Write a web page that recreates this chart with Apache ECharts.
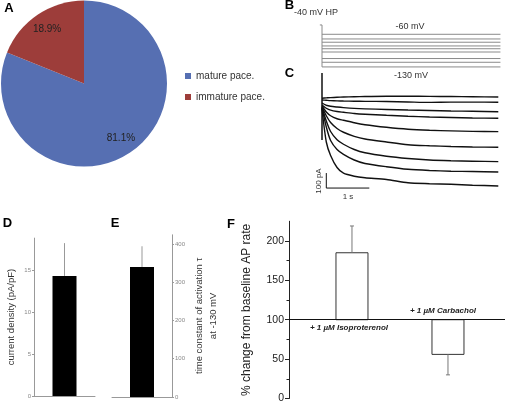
<!DOCTYPE html>
<html><head><meta charset="utf-8">
<script src="https://cdn.jsdelivr.net/npm/echarts@6/dist/echarts.min.js"></script>
<style>html,body{margin:0;padding:0;background:#fff}#c{width:506px;height:404px}</style>
</head><body><div id="c"></div>
<script>
// ---- Panel A: pie ----
const pieNames = ['mature pace.', 'immature pace.'];
const pieValues = [81.1, 18.9];
const pieColors = ['#566fb2', '#9d3d3a'];

// ---- Panel B: voltage protocol (mV) ----
const holdingMV = -40;
const stepMV = [-60, -70, -77, -85, -91, -98, -112, -120, -130];
const stepStart = 0;      // s
const stepEnd = 4.15;     // s

// ---- Panel C: current traces (pA) ----
const traceTimes = [0, 0.1, 0.2, 0.35, 0.5, 0.75, 1.0, 1.5, 2.0, 2.5, 3.0, 3.5, 4.1];
const trace1 = [-8, -6, -4, -2, 0, 2, 3, 5, 5, 4, 3, 2, 0];
const trace2 = [-20, -22, -24, -26, -27, -28, -29, -30, -33, -36, -34, -34, -35];
const trace3 = [-40, -55, -62, -67, -71, -76, -79, -83, -87, -90, -93, -95, -98];
const trace4 = [-53, -75, -88, -97, -102, -110, -115, -122, -128, -133, -137, -140, -142];
const trace5 = [-60, -100, -125, -145, -155, -172, -185, -202, -215, -222, -226, -229, -231];
const trace6 = [-67, -125, -170, -210, -235, -262, -280, -300, -318, -325, -330, -333, -335];
const trace7 = [-70, -160, -230, -285, -315, -350, -372, -395, -410, -420, -425, -428, -431];
const trace8 = [-73, -200, -290, -350, -382, -420, -443, -465, -482, -490, -495, -497, -500];
const trace9 = [-80, -300, -390, -470, -508, -528, -538, -550, -572, -578, -582, -588, -593];
const traces = [trace1, trace2, trace3, trace4, trace5, trace6, trace7, trace8, trace9];
const transientPA = [160, -287];
const scaleBarT = [0.1, 1.1];      // 1 s
const scaleBarPA = [-507, -607];   // 100 pA

// ---- Panel D ----
const dValue = [14.3];
const dErr = [3.9];
const dTicks = [0, 5, 10, 15];

// ---- Panel E ----
const eValue = [340];
const eErr = [54];
const eTicks = [0, 100, 200, 300, 400];

// ---- Panel F ----
const fLabels = ['+ 1 \u00b5M Isoproterenol', '+ 1 \u00b5M Carbachol'];
const fPositions = [1, 2];
const fValues = [185, 56];
const fErr = [34, 26];
const fBaseline = 100;
const fTicks = [0, 50, 100, 150, 200];
const fMinorTicks = [25, 75, 125, 175];

const FONT = '"Liberation Sans", Arial, sans-serif';
const chart = echarts.init(document.getElementById('c'), null, {renderer: 'canvas'});

function errRender(capHalf, color) {
  return function (params, api) {
    const x = api.value(0), lo = api.value(1), hi = api.value(2);
    const p1 = api.coord([x, lo]), p2 = api.coord([x, hi]);
    const ch = [{type: 'line', shape: {x1: p1[0], y1: p1[1], x2: p2[0], y2: p2[1]}, style: {stroke: color, lineWidth: 1}}];
    if (capHalf > 0) ch.push({type: 'line', shape: {x1: p2[0] - capHalf, y1: p2[1], x2: p2[0] + capHalf, y2: p2[1]}, style: {stroke: color, lineWidth: 1}});
    return {type: 'group', children: ch};
  };
}

const series = [];
// A
series.push({
  type: 'pie', center: [84, 83.5], radius: 83, startAngle: 90, clockwise: true, silent: true,
  label: {show: false}, labelLine: {show: false},
  data: pieNames.map((n, i) => ({name: n, value: pieValues[i], itemStyle: {color: pieColors[i]}}))
});
series.push({
  type: 'pie', center: [84, 83.5], radius: [43, 83], startAngle: 90, clockwise: true, silent: true,
  itemStyle: {color: 'rgba(0,0,0,0)'},
  label: {show: true, position: 'inside', formatter: p => p.value.toFixed(1) + '%', color: '#222', fontSize: 10, fontFamily: FONT},
  labelLine: {show: false},
  data: pieNames.map((n, i) => ({name: n, value: pieValues[i]}))
});
// B protocol
const protoLine = {type: 'line', xAxisIndex: 0, yAxisIndex: 0, showSymbol: false, silent: true,
  lineStyle: {color: '#8a8a8a', width: 1}};
series.push(Object.assign({}, protoLine, {data: [[stepStart - 0.05, holdingMV], [stepStart, holdingMV], [stepStart, Math.min(...stepMV)]]}));
stepMV.forEach(v => series.push(Object.assign({}, protoLine, {data: [[stepStart, v], [stepEnd, v]]})));
// C traces
traces.forEach(tr => series.push({
  type: 'line', xAxisIndex: 1, yAxisIndex: 1, showSymbol: false, silent: true, smooth: 0.25,
  lineStyle: {color: '#111', width: 1.4},
  data: traceTimes.map((t, i) => [t, tr[i]])
}));
series.push({type: 'line', xAxisIndex: 1, yAxisIndex: 1, showSymbol: false, silent: true,
  lineStyle: {color: '#111', width: 1.5}, data: [[0, transientPA[0]], [0, transientPA[1]]]});
series.push({type: 'line', xAxisIndex: 1, yAxisIndex: 1, showSymbol: false, silent: true,
  lineStyle: {color: '#111', width: 1},
  data: [[scaleBarT[0], scaleBarPA[0]], [scaleBarT[0], scaleBarPA[1]], [scaleBarT[1], scaleBarPA[1]]]});
// D
series.push({type: 'bar', xAxisIndex: 2, yAxisIndex: 2, barWidth: 24, silent: true, itemStyle: {color: '#000'}, data: dValue});
series.push({type: 'custom', xAxisIndex: 2, yAxisIndex: 2, silent: true, renderItem: errRender(0, '#999'),
  encode: {x: 0, y: [1, 2]}, data: dValue.map((v, i) => [0, v, v + dErr[i]])});
// E
series.push({type: 'bar', xAxisIndex: 3, yAxisIndex: 3, barWidth: 24, silent: true, itemStyle: {color: '#000'}, data: eValue});
series.push({type: 'custom', xAxisIndex: 3, yAxisIndex: 3, silent: true, renderItem: errRender(0, '#999'),
  encode: {x: 0, y: [1, 2]}, data: eValue.map((v, i) => [0, v, v + eErr[i]])});
// F
const fBarWidth = 1 / 3;
series.push({
  type: 'custom', xAxisIndex: 4, yAxisIndex: 4, silent: true,
  encode: {x: 0, y: 1},
  data: fPositions.map((x, i) => [x, fValues[i]]),
  renderItem: function (params, api) {
    const x = api.value(0), v = api.value(1);
    const p0 = api.coord([x, fBaseline]), p1 = api.coord([x, v]);
    const w = api.size([fBarWidth, 0])[0];
    const up = v > fBaseline;
    return {type: 'group', children: [
      {type: 'rect', shape: {x: p0[0] - w / 2, y: Math.min(p0[1], p1[1]), width: w, height: Math.abs(p1[1] - p0[1])},
        style: {fill: '#fff', stroke: '#333', lineWidth: 1}},
      {type: 'text', x: p0[0] + (up ? -3 : -5), y: p0[1] + (up ? 8 : -9),
        style: {text: fLabels[params.dataIndex], align: 'center', verticalAlign: 'middle',
          font: 'italic bold 8px "Liberation Sans", Arial, sans-serif', fill: '#222'}}
    ]};
  },
  markLine: {silent: true, symbol: 'none', label: {show: false}, lineStyle: {color: '#111', width: 1, type: 'solid'},
    data: [{yAxis: fBaseline}]}
});
series.push({type: 'custom', xAxisIndex: 4, yAxisIndex: 4, silent: true, renderItem: errRender(2, '#777'),
  encode: {x: 0, y: [1, 2]},
  data: fPositions.map((x, i) => [x, fValues[i], fValues[i] > fBaseline ? fValues[i] + fErr[i] : fValues[i] - fErr[i]])});

const hiddenX = {type: 'value', show: false, min: -0.5, max: 4.2};
const smallAxis = {
  axisLine: {show: true, lineStyle: {color: '#999'}},
  splitLine: {show: false}
};

const option = {
  animation: false,
  backgroundColor: '#fff',
  textStyle: {fontFamily: FONT},
  legend: {
    orient: 'vertical', left: 180, top: 65, icon: 'rect', itemWidth: 6, itemHeight: 6, itemGap: 9,
    selectedMode: false,
    textStyle: {fontSize: 10, color: '#333', fontFamily: FONT, lineHeight: 12},
    data: pieNames.map((n, i) => ({name: n, itemStyle: {color: pieColors[i]}}))
  },
  grid: [
    {left: 300.5, top: 20.3, width: 202.1, height: 51.3},
    {left: 300.5, top: 70, width: 202.1, height: 135},
    {left: 34, top: 238.1, width: 61, height: 157.9},
    {left: 112, top: 234.8, width: 60, height: 162.2},
    {left: 289, top: 221.25, width: 216, height: 177.75}
  ],
  xAxis: [
    Object.assign({gridIndex: 0}, hiddenX),
    Object.assign({gridIndex: 1}, hiddenX),
    {gridIndex: 2, type: 'category', data: [''], axisLine: {lineStyle: {color: '#999'}}, axisTick: {show: false}, axisLabel: {show: false}},
    {gridIndex: 3, type: 'category', data: [''], axisLine: {lineStyle: {color: '#999'}}, axisTick: {show: false}, axisLabel: {show: false}},
    {gridIndex: 4, type: 'value', show: false, min: 0.344, max: 2.594}
  ],
  yAxis: [
    {gridIndex: 0, type: 'value', show: false, min: -140, max: -30},
    {gridIndex: 1, type: 'value', show: false, min: -720, max: 180},
    Object.assign({gridIndex: 2, type: 'value', min: 0, max: 18.8,
      axisTick: {show: true, length: 2, customValues: dTicks, lineStyle: {color: '#999'}},
      axisLabel: {customValues: dTicks, fontSize: 6, color: '#888', margin: 3},
      name: 'current density (pA/pF)', nameLocation: 'middle', nameRotate: 90, nameGap: 18,
      nameTextStyle: {fontSize: 9.5, color: '#333'}}, smallAxis),
    Object.assign({gridIndex: 3, type: 'value', position: 'right', min: 0, max: 424,
      axisTick: {show: true, length: 2, customValues: eTicks, lineStyle: {color: '#999'}},
      axisLabel: {customValues: eTicks, fontSize: 6, color: '#888', margin: 3},
      name: 'time constant of activation \u03c4\nat -130 mV', nameLocation: 'middle', nameRotate: 90, nameGap: 20,
      nameTextStyle: {fontSize: 9.5, color: '#333', lineHeight: 14}}, smallAxis),
    {gridIndex: 4, type: 'value', position: 'left', min: 0, max: 225,
      axisLine: {show: true, lineStyle: {color: '#222'}},
      axisTick: {show: true, length: 4, customValues: fTicks, lineStyle: {color: '#222'}},
      axisLabel: {customValues: fTicks, fontSize: 10.5, color: '#222', margin: 5},
      splitLine: {show: false},
      name: '% change from baseline AP rate', nameLocation: 'middle', nameRotate: 90, nameGap: 36,
      nameTextStyle: {fontSize: 12, color: '#222'}},
    {gridIndex: 4, type: 'value', position: 'left', offset: 0, min: 0, max: 225,
      axisLine: {show: false},
      axisTick: {show: true, length: 2.5, customValues: fMinorTicks, lineStyle: {color: '#222'}},
      axisLabel: {show: false}, splitLine: {show: false}}
  ],
  graphic: [
    {type: 'text', x: 9, y: 8.5, style: {text: 'A', font: 'bold 13px "Liberation Sans", Arial', fill: '#000', align: 'center', verticalAlign: 'middle'}},
    {type: 'text', x: 289.5, y: 5, style: {text: 'B', font: 'bold 13px "Liberation Sans", Arial', fill: '#000', align: 'center', verticalAlign: 'middle'}},
    {type: 'text', x: 289.5, y: 73.5, style: {text: 'C', font: 'bold 13px "Liberation Sans", Arial', fill: '#000', align: 'center', verticalAlign: 'middle'}},
    {type: 'text', x: 7.5, y: 223, style: {text: 'D', font: 'bold 13px "Liberation Sans", Arial', fill: '#000', align: 'center', verticalAlign: 'middle'}},
    {type: 'text', x: 115, y: 223, style: {text: 'E', font: 'bold 13px "Liberation Sans", Arial', fill: '#000', align: 'center', verticalAlign: 'middle'}},
    {type: 'text', x: 231, y: 224, style: {text: 'F', font: 'bold 13px "Liberation Sans", Arial', fill: '#000', align: 'center', verticalAlign: 'middle'}},
    {type: 'text', x: 316, y: 13, style: {text: '-40 mV HP', font: '9px "Liberation Sans", Arial', fill: '#333', align: 'center', verticalAlign: 'middle'}},
    {type: 'text', x: 410, y: 27, style: {text: '-60 mV', font: '9px "Liberation Sans", Arial', fill: '#333', align: 'center', verticalAlign: 'middle'}},
    {type: 'text', x: 411, y: 76, style: {text: '-130 mV', font: '9px "Liberation Sans", Arial', fill: '#333', align: 'center', verticalAlign: 'middle'}},
    {type: 'text', x: 319, y: 181, rotation: Math.PI / 2, style: {text: '100 pA', font: '8px "Liberation Sans", Arial', fill: '#333', align: 'center', verticalAlign: 'middle'}},
    {type: 'text', x: 348, y: 197, style: {text: '1 s', font: '8px "Liberation Sans", Arial', fill: '#333', align: 'center', verticalAlign: 'middle'}}
  ],
  series: series
};
chart.setOption(option);
</script>
</body></html>
